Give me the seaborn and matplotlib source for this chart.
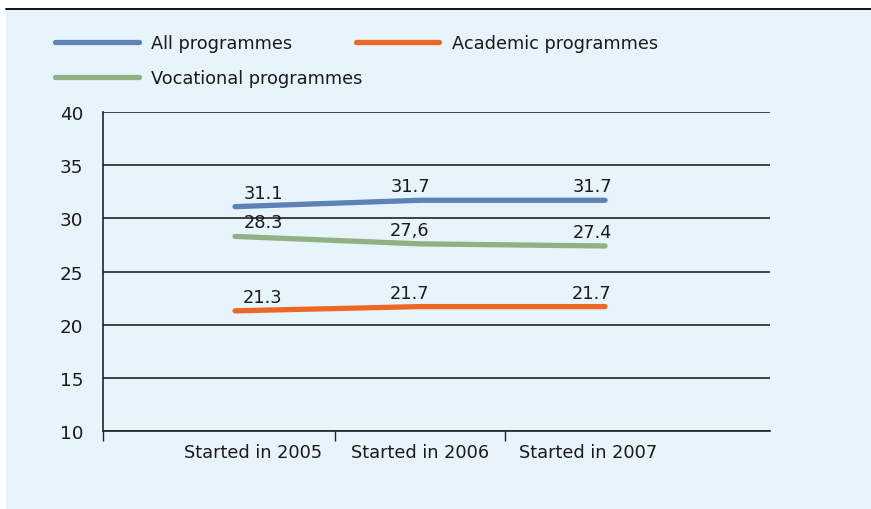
import matplotlib
matplotlib.use("Agg")
import matplotlib.pyplot as plt
from matplotlib.patches import Rectangle
from matplotlib.lines import Line2D
import seaborn as sns
import pandas as pd
import numpy as np

categories = ["Started in 2005", "Started in 2006", "Started in 2007"]
series_names = ["All programmes", "Academic programmes", "Vocational programmes"]
all_vals = [31.1, 31.7, 31.7]
academic_vals = [21.3, 21.7, 21.7]
vocational_vals = [28.3, 27.6, 27.4]
value_labels = {
    "All programmes": ["31.1", "31.7", "31.7"],
    "Academic programmes": ["21.3", "21.7", "21.7"],
    "Vocational programmes": ["28.3", "27,6", "27.4"],
}
y_ticks = [10, 15, 20, 25, 30, 35, 40]

colors = {"All programmes": "#5E81B6",
          "Academic programmes": "#EC6726",
          "Vocational programmes": "#91B083"}

rows = []
for name, vals in zip(series_names, [all_vals, academic_vals, vocational_vals]):
    for i, v in enumerate(vals):
        rows.append({"pos": i, "value": v, "series": name})
df = pd.DataFrame(rows)

sns.set_theme(style="white")
plt.rcParams["font.family"] = ["DejaVu Sans"]
FS = 12.8
BG = "#E8F4FC"

W, H = 871, 510
fig = plt.figure(figsize=(W / 100, H / 100), dpi=100)
fig.patch.set_facecolor("white")
fig.patches.append(Rectangle((6 / W, 0), 1 - 6 / W, (H - 10) / H,
                             transform=fig.transFigure, facecolor=BG,
                             edgecolor="none", zorder=-5))
fig.lines.append(Line2D([6 / W, 1], [1 - 9.5 / H, 1 - 9.5 / H],
                        transform=fig.transFigure, color="#111111", lw=1.4))

ax = fig.add_axes([103 / W, 1 - 432 / H, 667 / W, 319 / H])
ax.set_facecolor(BG)

sns.lineplot(data=df, x="pos", y="value", hue="series", hue_order=series_names,
             palette=colors, linewidth=3.8, ax=ax, legend=True,
             solid_capstyle="round")

# pixel -> data mapping for x (point spacing 185 px, middle point at 420 px)
def px2x(px):
    return (px - 420) / 185.0 + 1

ax.set_xlim(px2x(103), px2x(770))
ax.set_ylim(10, 40)
ax.set_yticks(y_ticks)
ax.set_yticklabels([str(t) for t in y_ticks], fontsize=13.2, color="#1a1a1a")
ax.tick_params(axis="y", length=0, pad=14)

label_px = [253, 420, 588]
ax.set_xticks([px2x(p) for p in label_px])
ax.set_xticklabels(categories, fontsize=FS, color="#1a1a1a")
ax.tick_params(axis="x", which="major", length=0, pad=9)
ax.set_xticks([px2x(103), px2x(335), px2x(505)], minor=True)
ax.tick_params(axis="x", which="minor", length=7, width=1, color="#222222",
               direction="out", bottom=True)

ax.grid(axis="y", color="#111111", linewidth=1.1)
ax.set_axisbelow(True)
for s in ["right", "top"]:
    ax.spines[s].set_visible(False)
for s in ["left", "bottom"]:
    ax.spines[s].set_color("#222222")
    ax.spines[s].set_linewidth(1.2)
ax.set_xlabel("")
ax.set_ylabel("")

# value labels
x_off = [28, -10, -13]
for name, vals in zip(series_names, [all_vals, academic_vals, vocational_vals]):
    for i, v in enumerate(vals):
        ax.annotate(value_labels[name][i], (i, v), xytext=(x_off[i], 14),
                    textcoords="offset pixels", ha="center", va="center",
                    fontsize=FS, color="#1a1a1a")

ax.get_legend().remove()
order = ["All programmes", "Vocational programmes", "Academic programmes"]
hs = [Line2D([], [], color=colors[n], lw=3.8, solid_capstyle="round") for n in order]
fig.legend(hs, order, loc="upper left", bbox_to_anchor=(55 / W, 1 - 35 / H),
           ncol=2, frameon=False, fontsize=FS, handlelength=4.7,
           handletextpad=0.72, columnspacing=-0.4, labelspacing=0.95,
           borderpad=0, borderaxespad=0, labelcolor="#1a1a1a")

fig.savefig("out.png", dpi=100, facecolor=fig.get_facecolor())
